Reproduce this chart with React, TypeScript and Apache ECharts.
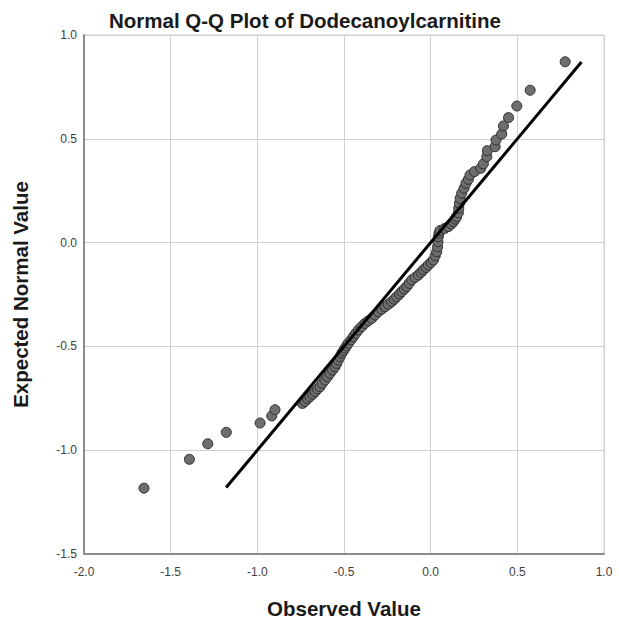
import React, { useEffect, useRef } from "react";
import * as echarts from "echarts";

const chartTitle = "Normal Q-Q Plot of Dodecanoylcarnitine";
const xAxisName = "Observed Value";
const yAxisName = "Expected Normal Value";

// Observed values (x)
const observed: number[] = [
  -1.654, -1.392, -1.286, -1.179, -0.984, -0.917, -0.898, -0.74, -0.725, -0.71,
  -0.696, -0.68, -0.667, -0.652, -0.638, -0.625, -0.61, -0.595, -0.581, -0.566,
  -0.552, -0.542, -0.533, -0.523, -0.513, -0.503, -0.494, -0.485, -0.475, -0.46,
  -0.446, -0.432, -0.417, -0.398, -0.379, -0.36, -0.34, -0.321, -0.302, -0.282,
  -0.263, -0.244, -0.225, -0.21, -0.196, -0.18, -0.167, -0.152, -0.138, -0.124,
  -0.109, -0.09, -0.071, -0.056, -0.042, -0.027, -0.013, 0.002, 0.016, 0.026,
  0.035, 0.04, 0.042, 0.044, 0.048, 0.054, 0.08, 0.102, 0.12, 0.131,
  0.142, 0.15, 0.16, 0.162, 0.166, 0.17, 0.179, 0.193, 0.204, 0.218,
  0.227, 0.253, 0.289, 0.304, 0.324, 0.327, 0.372, 0.377, 0.41, 0.42,
  0.449, 0.497, 0.574, 0.776,
];

// Expected normal values (y)
const expected: number[] = [
  -1.183, -1.044, -0.969, -0.914, -0.869, -0.835, -0.805, -0.775, -0.765, -0.752,
  -0.742, -0.73, -0.718, -0.705, -0.694, -0.678, -0.662, -0.646, -0.63, -0.614,
  -0.598, -0.582, -0.566, -0.55, -0.533, -0.521, -0.509, -0.497, -0.485, -0.469,
  -0.453, -0.437, -0.421, -0.405, -0.389, -0.377, -0.365, -0.349, -0.333, -0.321,
  -0.309, -0.297, -0.285, -0.273, -0.261, -0.248, -0.236, -0.224, -0.212, -0.196,
  -0.18, -0.168, -0.156, -0.144, -0.132, -0.12, -0.108, -0.096, -0.084, -0.064,
  -0.044, -0.02, 0.004, 0.028, 0.045, 0.058, 0.068, 0.077, 0.09, 0.101,
  0.113, 0.125, 0.144, 0.165, 0.189, 0.213, 0.238, 0.262, 0.286, 0.305,
  0.326, 0.342, 0.358, 0.379, 0.414, 0.443, 0.462, 0.494, 0.523, 0.562,
  0.602, 0.658, 0.734, 0.871,
];

// Reference line endpoints (y = x)
const refLineX: number[] = [-1.18, 0.87];
const refLineY: number[] = [-1.18, 0.87];

const xTicks = { min: -2.0, max: 1.0, interval: 0.5 };
const yTicks = { min: -1.5, max: 1.0, interval: 0.5 };

export default function App() {
  const ref = useRef<HTMLDivElement>(null);
  useEffect(() => {
    if (!ref.current) return;
    const chart = echarts.init(ref.current, undefined, { renderer: "svg" });
    const font = "Liberation Sans, Arial, sans-serif";
    const points = observed.map((x, i) => [x, expected[i]]);
    const line = refLineX.map((x, i) => [x, refLineY[i]]);
    chart.setOption({
      animation: false,
      backgroundColor: "#ffffff",
      title: {
        text: chartTitle,
        left: 104,
        top: 5,
        textStyle: { fontFamily: font, fontSize: 20.5, fontWeight: "bold", color: "#1a1a1a" },
      },
      grid: {
        left: 84,
        right: 15,
        top: 35,
        bottom: 70,
        show: true,
        borderColor: "#d0d0d0",
        borderWidth: 1,
        backgroundColor: "transparent",
      },
      xAxis: {
        type: "value",
        min: xTicks.min,
        max: xTicks.max,
        interval: xTicks.interval,
        name: xAxisName,
        nameLocation: "middle",
        nameGap: 44,
        nameTextStyle: { fontFamily: font, fontSize: 20.5, fontWeight: "bold", color: "#1a1a1a" },
        axisLine: { show: true, onZero: false, lineStyle: { color: "#8c8c8c", width: 2 } },
        axisTick: { show: false },
        splitLine: { show: true, lineStyle: { color: "#d0d0d0", width: 1 } },
        axisLabel: {
          fontFamily: font,
          fontSize: 12,
          color: "#404040",
          margin: 12,
          formatter: (v: number) => v.toFixed(1),
        },
      },
      yAxis: {
        type: "value",
        min: yTicks.min,
        max: yTicks.max,
        interval: yTicks.interval,
        name: yAxisName,
        nameLocation: "middle",
        nameGap: 53,
        nameTextStyle: { fontFamily: font, fontSize: 20.5, fontWeight: "bold", color: "#1a1a1a" },
        axisLine: { show: true, onZero: false, lineStyle: { color: "#8c8c8c", width: 2 } },
        axisTick: { show: false },
        splitLine: { show: true, lineStyle: { color: "#d0d0d0", width: 1 } },
        axisLabel: {
          fontFamily: font,
          fontSize: 12,
          color: "#404040",
          margin: 7,
          padding: [6, 0, 0, 0],
          formatter: (v: number) => v.toFixed(1),
        },
      },
      series: [
        {
          type: "scatter",
          data: points,
          symbol: "circle",
          symbolSize: 10,
          itemStyle: { color: "#6e6e6e", borderColor: "#2e2e2e", borderWidth: 1, opacity: 1 },
          z: 2,
        },
        {
          type: "line",
          data: line,
          symbol: "none",
          lineStyle: { color: "#000000", width: 3 },
          z: 3,
        },
      ],
    });
    return () => chart.dispose();
  }, []);
  return (
    <div
      ref={ref}
      style={{ position: "fixed", left: 0, top: 0, width: 619, height: 624 }}
    />
  );
}
